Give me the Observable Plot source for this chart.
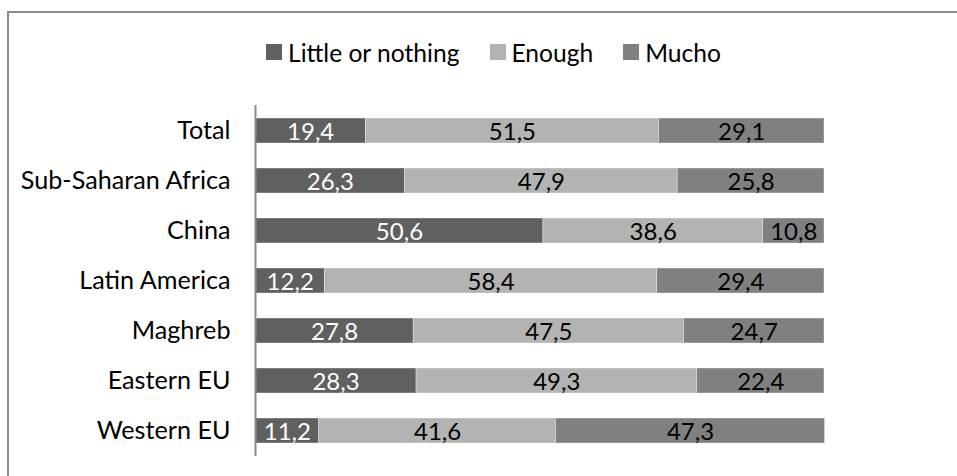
<!DOCTYPE html>
<html>
<head>
<meta charset="utf-8">
<script src="https://cdn.jsdelivr.net/npm/d3@7"></script>
<script src="https://cdn.jsdelivr.net/npm/@observablehq/plot@0.6"></script>
<style>
  html, body { margin: 0; padding: 0; background: #fff; }
  #wrap { position: relative; width: 957px; height: 476px; overflow: hidden; font-family: Lato, "Open Sans", sans-serif; }
  #frame { position: absolute; left: 7px; top: 11px; width: 1000px; height: 1000px; border-top: 2px solid #8c8c8c; border-left: 2px solid #8c8c8c; box-sizing: border-box; }
  #legend { position: absolute; left: 266px; top: 37px; height: 30px; display: flex; align-items: center; font-size: 24.6px; color: #000; white-space: nowrap; }
  .item { display: flex; align-items: center; margin-right: 30px; }
  .sw { width: 16px; height: 16px; margin-right: 6px; }
  #chart { position: absolute; left: 0; top: 0; }
</style>
</head>
<body>
<div id="wrap">
  <div id="frame"></div>
  <div id="legend"></div>
  <div id="chart"></div>
</div>
<script>
const categories = ["Total", "Sub-Saharan Africa", "China", "Latin America", "Maghreb", "Eastern EU", "Western EU"];
const seriesNames = ["Little or nothing", "Enough", "Mucho"];
const seriesColors = ["#606060", "#b3b3b3", "#808080"];
const labelColors = ["#ffffff", "#000000", "#000000"];
const littleValues = [19.4, 26.3, 50.6, 12.2, 27.8, 28.3, 11.2];
const enoughValues = [51.5, 47.9, 38.6, 58.4, 47.5, 49.3, 41.6];
const muchoValues  = [29.1, 25.8, 10.8, 29.4, 24.7, 22.4, 47.3];

const seriesValues = [littleValues, enoughValues, muchoValues];
const data = [];
seriesNames.forEach((s, si) => {
  categories.forEach((c, ci) => {
    data.push({cat: c, series: s, value: seriesValues[si][ci], si});
  });
});

const fmt = v => v.toFixed(1).replace(".", ",");

// Legend
const legend = document.getElementById("legend");
seriesNames.forEach((s, i) => {
  const it = document.createElement("div");
  it.className = "item";
  const sw = document.createElement("div");
  sw.className = "sw";
  sw.style.background = seriesColors[i];
  const t = document.createElement("span");
  t.textContent = s;
  it.appendChild(sw); it.appendChild(t);
  legend.appendChild(it);
});

const chart = Plot.plot({
  width: 957,
  height: 476,
  marginTop: 105,
  marginBottom: 20,
  marginLeft: 255,
  marginRight: 133,
  style: {fontFamily: "Lato, 'Open Sans', sans-serif", fontSize: "25.2px", background: "transparent", color: "#000"},
  x: {domain: [0, 100], axis: null},
  y: {domain: categories, paddingInner: 0.5, paddingOuter: 0.25, label: null, tickSize: 0, tickPadding: 25},
  color: {domain: seriesNames, range: seriesColors},
  marks: [
    Plot.barX(data, Plot.stackX({x: "value", y: "cat", fill: "series", z: "series", order: null, stroke: "#ffffff", strokeWidth: 0.6, strokeOpacity: 0.6})),
    Plot.text(data, Plot.stackX({x: "value", y: "cat", z: "series", order: null, text: d => fmt(d.value), fill: d => labelColors[d.si], fontSize: 24, dy: 1})),
    Plot.ruleX([0], {stroke: "#8c8c8c", strokeWidth: 2})
  ]
});
document.getElementById("chart").appendChild(chart);
</script>
</body>
</html>
